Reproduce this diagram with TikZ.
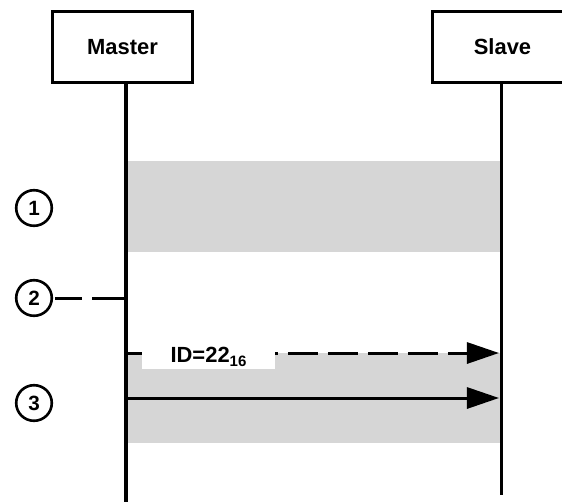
\documentclass[tikz,border=0pt]{standalone}
\usepackage{fontspec}
\setmainfont{Liberation Sans}
\usetikzlibrary{arrows.meta}
\definecolor{bandgray}{RGB}{214,214,214}

\begin{document}
\begin{tikzpicture}[x=0.025cm, y=-0.025cm,
		actor/.style={draw, fill=white, line width=0.075cm, minimum width=3.475cm, minimum height=1.75cm, font=\fontsize{15.6}{18}\selectfont\bfseries},
		lifeline/.style={line width=0.075cm},
		stepmark/.style={draw, circle, fill=white, line width=0.065cm, minimum size=0.89cm, inner sep=0pt, font=\fontsize{14.7}{16}\selectfont\bfseries},
		msg/.style={line width=0.075cm, -{Triangle[length=0.8cm, width=0.525cm]}},
		band/.style={fill=bandgray}]
		\useasboundingbox (0, 0) rectangle (562, 502);
		\clip (0, 0) rectangle (562, 502);
		
		\fill[band] (126, 161) rectangle (501, 252);
		\fill[band] (126, 353) rectangle (501, 443);
		
		\coordinate (mx) at (126, 502);
		\coordinate (sx) at (501, 495);
		
		\draw[lifeline] (mx |- 0, 82) -- (mx);
		\draw[lifeline] (sx |- 0, 82) -- (sx);
		
		\node[actor] (master) at (122.5, 47) {Master};
		\node[actor] (slave) at (502.5, 47) {Slave};
		
		\node[stepmark] (s1) at (34, 208) {1};
		\node[stepmark] (s2) at (34, 298) {2};
		\node[stepmark] (s3) at (34, 403) {3};
		
		\coordinate (m2) at (125, 298);
		\coordinate (req0) at (126, 353);
		\coordinate (req1) at (499, 353);
		\coordinate (rsp0) at (126, 398);
		\coordinate (rsp1) at (499, 398);
		
		\draw[lifeline, dash pattern=on 0.675cm off 0.25cm on 1cm off 0.25cm, dash phase=2.125cm] (s2.east) -- (m2);
		\draw[msg, dash pattern=on 0.75cm off 0.25cm, dash phase=0.95cm] (req0) -- (req1);
		\draw[msg] (rsp0) -- (rsp1);
		
		\node[fill=white, minimum width=3.325cm, minimum height=0.6cm, inner sep=0pt, font=\fontsize{15.6}{18}\selectfont\bfseries] (idlbl) at (208.5, 357) {ID=22\raisebox{-0.1cm}{\fontsize{10.7}{12}\selectfont 16}};
	\end{tikzpicture}
\end{document}
